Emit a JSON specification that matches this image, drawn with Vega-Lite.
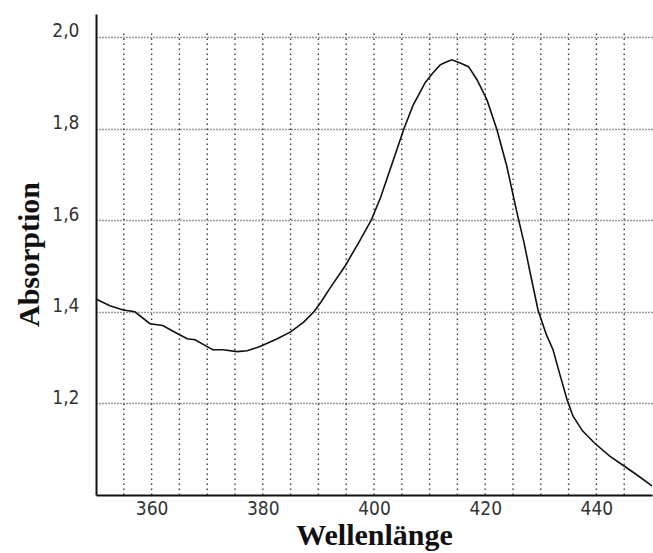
{
  "$schema": "https://vega.github.io/schema/vega-lite/v6.json",
  "width": 556,
  "height": 481,
  "autosize": "none",
  "padding": {"left": 96, "top": 14, "right": 1, "bottom": 58},
  "background": "white",
  "config": {"view": {"stroke": null}},
  "datasets": {
    "curve": [
      {"nm": 350, "abs": 1.428}, {"nm": 352.5, "abs": 1.413}, {"nm": 354.9, "abs": 1.404},
      {"nm": 357, "abs": 1.400}, {"nm": 359.7, "abs": 1.374}, {"nm": 362, "abs": 1.370},
      {"nm": 364.7, "abs": 1.352}, {"nm": 366.4, "abs": 1.341}, {"nm": 367.8, "abs": 1.339},
      {"nm": 370, "abs": 1.324}, {"nm": 371, "abs": 1.317}, {"nm": 372.8, "abs": 1.317},
      {"nm": 375.4, "abs": 1.313}, {"nm": 377.2, "abs": 1.315}, {"nm": 379.5, "abs": 1.324},
      {"nm": 382.6, "abs": 1.341}, {"nm": 385, "abs": 1.356}, {"nm": 387.3, "abs": 1.377},
      {"nm": 389.2, "abs": 1.400}, {"nm": 390.5, "abs": 1.422}, {"nm": 392, "abs": 1.450},
      {"nm": 394.8, "abs": 1.500}, {"nm": 397.2, "abs": 1.550}, {"nm": 399.5, "abs": 1.600},
      {"nm": 401.2, "abs": 1.650}, {"nm": 402.6, "abs": 1.700}, {"nm": 404, "abs": 1.750},
      {"nm": 405.4, "abs": 1.800}, {"nm": 407, "abs": 1.850}, {"nm": 409.2, "abs": 1.900},
      {"nm": 410.5, "abs": 1.920}, {"nm": 411.9, "abs": 1.939}, {"nm": 413, "abs": 1.945},
      {"nm": 414, "abs": 1.950}, {"nm": 415.5, "abs": 1.943}, {"nm": 417, "abs": 1.935},
      {"nm": 418.5, "abs": 1.907}, {"nm": 420.3, "abs": 1.863}, {"nm": 422.1, "abs": 1.798},
      {"nm": 423.9, "abs": 1.717}, {"nm": 425.7, "abs": 1.617}, {"nm": 427, "abs": 1.550},
      {"nm": 428, "abs": 1.490}, {"nm": 429.5, "abs": 1.404}, {"nm": 431, "abs": 1.350},
      {"nm": 432.2, "abs": 1.317}, {"nm": 433.5, "abs": 1.260}, {"nm": 434.7, "abs": 1.209},
      {"nm": 435.8, "abs": 1.172}, {"nm": 437.5, "abs": 1.140}, {"nm": 439.7, "abs": 1.113},
      {"nm": 442.4, "abs": 1.085}, {"nm": 445.5, "abs": 1.059}, {"nm": 447.5, "abs": 1.042},
      {"nm": 450, "abs": 1.020}
    ],
    "grid": [
      {"nm": 355}, {"nm": 360}, {"nm": 365}, {"nm": 370}, {"nm": 375}, {"nm": 380},
      {"nm": 385}, {"nm": 390}, {"nm": 395}, {"nm": 400}, {"nm": 405}, {"nm": 410},
      {"nm": 415}, {"nm": 420}, {"nm": 425}, {"nm": 430}, {"nm": 435}, {"nm": 440},
      {"nm": 445}
    ]
  },
  "encoding": {
    "x": {
      "field": "nm", "type": "quantitative",
      "scale": {"domain": [350, 450], "nice": false, "zero": false},
      "axis": {
        "values": [360, 380, 400, 420, 440],
        "title": "Wellenlänge",
        "titleFont": "Liberation Serif", "titleFontWeight": "bold", "titleFontSize": 30, "titleColor": "#111111",
        "titleX": 278, "titleY": 49, "titleBaseline": "alphabetic", "titleAlign": "center",
        "labelFont": "Liberation Sans Narrow, DejaVu Sans Condensed, sans-serif", "labelFontSize": 19, "labelColor": "#333333",
        "labelPadding": 4, "labelBaseline": "top",
        "ticks": false, "domainColor": "#111111", "domainWidth": 2, "grid": false
      }
    },
    "y": {
      "type": "quantitative",
      "scale": {"domain": [1.0, 2.05], "nice": false, "zero": false},
      "axis": {
        "values": [1.2, 1.4, 1.6, 1.8, 2.0],
        "labelExpr": "replace(format(datum.value, '.1f'), '.', ',')",
        "title": "Absorption",
        "titleFont": "Liberation Serif", "titleFontWeight": "bold", "titleFontSize": 30, "titleColor": "#111111",
        "titleX": -67, "titleY": 240, "titleAngle": -90, "titleBaseline": "middle", "titleAlign": "center",
        "labelFont": "Liberation Sans Narrow, DejaVu Sans Condensed, sans-serif", "labelFontSize": 19, "labelColor": "#333333",
        "labelPadding": 17, "labelBaseline": "alphabetic",
        "ticks": false, "domainColor": "#111111", "domainWidth": 2,
        "grid": true, "gridColor": "#222222", "gridDash": [1, 2], "gridWidth": 1.3, "gridOpacity": 0.9
      }
    }
  },
  "layer": [
    {
      "data": {"name": "grid"},
      "mark": {"type": "rule", "color": "#222222", "strokeDash": [1.5, 3.5], "strokeWidth": 1.4, "opacity": 0.9},
      "encoding": {
        "y": {"datum": 1.0, "type": "quantitative", "title": "Absorption"},
        "y2": {"datum": 2.01}
      }
    },
    {
      "data": {"name": "curve"},
      "mark": {"type": "line", "color": "#111111", "strokeWidth": 1.6},
      "encoding": {
        "y": {"field": "abs", "type": "quantitative", "title": "Absorption"}
      }
    }
  ]
}
